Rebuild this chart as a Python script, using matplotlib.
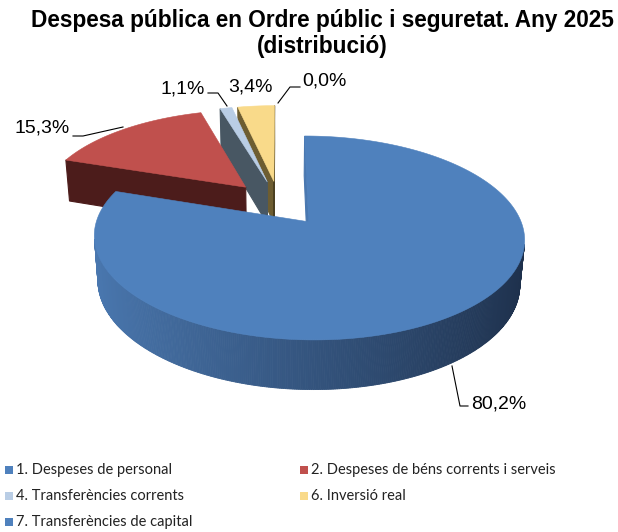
import numpy as np
import matplotlib.pyplot as plt
from matplotlib.patches import Polygon, Rectangle
import matplotlib.colors as mcolors

# ---- data ----
title1 = "Despesa pública en Ordre públic i seguretat. Any 2025"
title2 = "(distribució)"
categories = ["1. Despeses de personal",
              "2. Despeses de béns corrents i serveis",
              "4. Transferències corrents",
              "6. Inversió real",
              "7. Transferències de capital"]
values = [80.2, 15.3, 1.1, 3.4, 0.0]
pct_labels = ["80,2%", "15,3%", "1,1%", "3,4%", "0,0%"]

top_colors = ["#4F81BD", "#C0504D", "#B9CDE5", "#F9DA8A", "#4F81BD"]
side_light = ["#4A78B0", "#561F1E", "#485864", "#6D5D31", "#4A78B0"]
side_dark = ["#1D2F4A", "#3A1514", "#323D46", "#4A3F20", "#1D2F4A"]

# ---- 3d view (pixel space) ----
phi = np.radians(27)
D = 5.8
f = 1195
cx, cy = 279, 203
h = 0.24
explode = 0.24
cam = np.array([0, -D * np.cos(phi), D * np.sin(phi)])


def proj(X, Y, Z):
    yc = Y * np.sin(phi) + Z * np.cos(phi)
    zc = Y * np.cos(phi) - Z * np.sin(phi) + D
    return cx + f * X / zc, cy - f * yc / zc


def shade(i, nx):
    t = (1 - nx) / 2
    a = np.array(mcolors.to_rgb(side_dark[i]))
    b = np.array(mcolors.to_rgb(side_light[i]))
    return tuple(a + t * (b - a))


def facing(nx, ny, px, py, pz):
    v = cam - np.array([px, py, pz])
    return nx * v[0] + ny * v[1] > -0.02


fig = plt.figure(figsize=(6.18, 5.32), dpi=100)
ax = fig.add_axes([0, 0, 1, 1])
ax.set_xlim(0, 618)
ax.set_ylim(532, 0)
ax.axis('off')

fr = np.array(values) / sum(values)
ends = np.cumsum(fr) * 2 * np.pi
starts = ends - fr * 2 * np.pi
mids = (starts + ends) / 2
order = sorted([i for i in range(len(values)) if values[i] > 0],
               key=lambda i: -np.cos(mids[i]))

for i in order:
    a0, a1 = starts[i], ends[i]
    ox, oy = explode * np.sin(mids[i]), explode * np.cos(mids[i])
    n = max(3, int(np.degrees(a1 - a0) * 2))
    arc = np.linspace(a0, a1, n)
    rx, ry = ox + np.sin(arc), oy + np.cos(arc)

    # radial walls
    for ang, nx, ny in [(a0, -np.cos(a0), np.sin(a0)), (a1, np.cos(a1), -np.sin(a1))]:
        ex, ey = ox + np.sin(ang), oy + np.cos(ang)
        if facing(nx, ny, (ox + ex) / 2, (oy + ey) / 2, -h / 2):
            pts = [proj(ox, oy, 0), proj(ex, ey, 0), proj(ex, ey, -h), proj(ox, oy, -h)]
            c = shade(i, nx)
            ax.add_patch(Polygon(pts, closed=True, fc=c, ec=c, lw=0.8))

    # outer rim
    for k in range(n - 1):
        m = (arc[k] + arc[k + 1]) / 2
        nx, ny = np.sin(m), np.cos(m)
        if facing(nx, ny, ox + nx, oy + ny, -h / 2):
            pts = [proj(rx[k], ry[k], 0), proj(rx[k + 1], ry[k + 1], 0),
                   proj(rx[k + 1], ry[k + 1], -h), proj(rx[k], ry[k], -h)]
            c = shade(i, nx)
            ax.add_patch(Polygon(pts, closed=True, fc=c, ec=c, lw=0.6))

    # top face
    pts = [proj(ox, oy, 0)] + [proj(x, y, 0) for x, y in zip(rx, ry)]
    ax.add_patch(Polygon(pts, closed=True, fc=top_colors[i], ec=top_colors[i], lw=0.4))

# ---- data labels with leader lines ----
lab_font = dict(fontsize=14, family='Liberation Sans', color='black')
leaders = [[(452, 366), (460, 406), (468, 406)],
           [(123, 127), (83, 136), (73, 136)],
           [(227, 106), (218, 93), (208, 93)],
           [],
           [(278, 103), (290, 87), (300, 87)]]
text_pos = [(471, 404, 'left'), (70, 128, 'right'), (205, 89, 'right'),
            (228, 87, 'left'), (302, 81, 'left')]
for i in range(len(values)):
    if leaders[i]:
        xs, ys = zip(*leaders[i])
        ax.plot(xs, ys, color='black', lw=0.8)
    x, y, ha = text_pos[i]
    ax.text(x, y, pct_labels[i], ha=ha, va='center', **lab_font)

# ---- title ----
ax.text(322, 21, title1, ha='center', va='center', fontsize=16.3,
        fontweight='bold', family='Liberation Sans')
ax.text(322, 46, title2, ha='center', va='center', fontsize=16.3,
        fontweight='bold', family='Liberation Sans')

# ---- legend ----
leg_x = [5, 300]
leg_y = [470, 496, 522]
for k, name in enumerate(categories):
    lx = leg_x[k % 2]
    ly = leg_y[k // 2]
    ax.add_patch(Rectangle((lx, ly - 4), 8, 8, fc=top_colors[k], ec='none'))
    ax.text(lx + 11, ly, name, ha='left', va='center', fontsize=10.5,
            family='Lato', color='#222222')

fig.savefig('out.png', dpi=100)
